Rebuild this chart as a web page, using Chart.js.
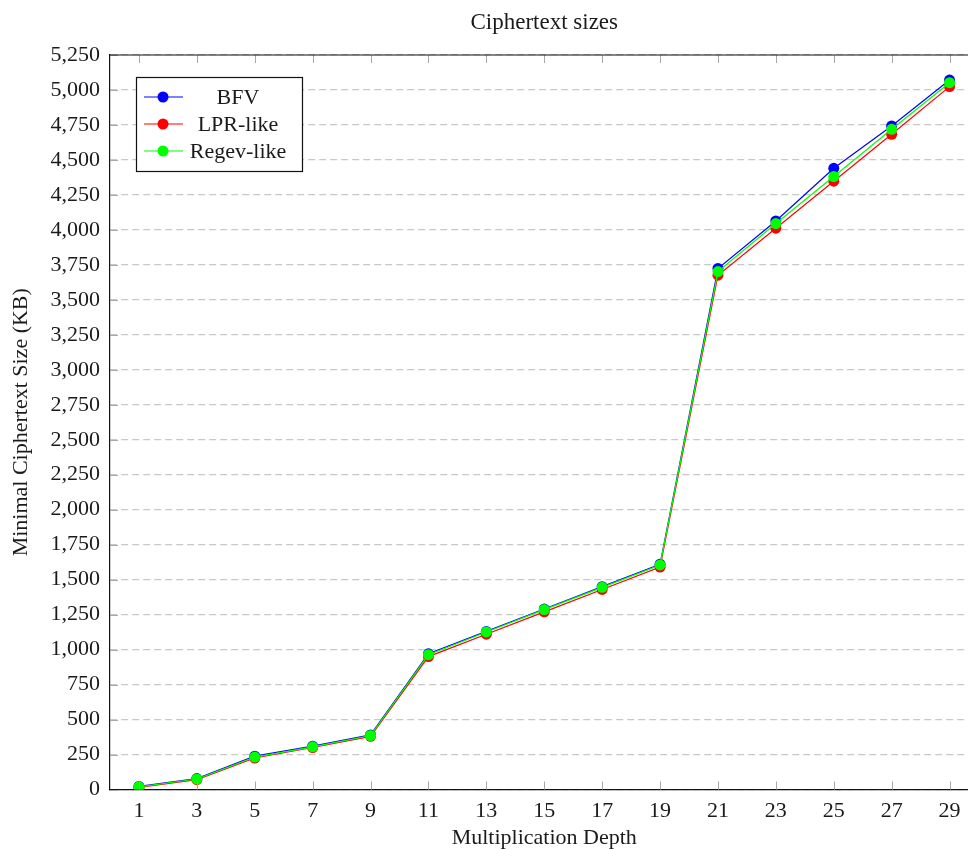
<!DOCTYPE html>
<html>
<head>
<meta charset="utf-8">
<script src="https://cdn.jsdelivr.net/npm/chart.js@4.4.1/dist/chart.umd.min.js"></script>
<style>
  html, body { margin: 0; padding: 0; background: #fff; overflow: hidden; }
  canvas { display: block; }
</style>
</head>
<body>
<canvas id="sizesChart" width="1000" height="849"></canvas>
<script>
// multiplication depth on x, ciphertext size (KB) on y
const depths = [1, 3, 5, 7, 9, 11, 13, 15, 17, 19, 21, 23, 25, 27, 29];
const bfvSizes = [22, 78, 238, 310, 390, 970, 1130, 1290, 1450, 1610, 3724, 4064, 4440, 4743, 5071];
const lprSizes = [15, 70, 225, 300, 380, 950, 1110, 1270, 1430, 1590, 3676, 4012, 4348, 4683, 5024];
const regevSizes = [19, 75, 232, 305, 386, 964, 1126, 1286, 1445, 1605, 3702, 4045, 4381, 4719, 5052];
const seriesNames = ['BFV', 'LPR-like', 'Regev-like'];
const seriesColors = ['#0000ff', '#ff0000', '#00ff00'];

const FONT = '"Liberation Serif", "Times New Roman", serif';
const TEXT = '#1a1a1a';

function toPoints(ys) {
  return depths.map((d, i) => ({ x: d, y: ys[i] }));
}

// title, top border, inward tick marks and the boxed legend
const pgfLook = {
  id: 'pgfLook',
  afterDatasetsDraw(chart) {
    const ctx = chart.ctx;
    const a = chart.chartArea;
    const xs = chart.scales.x, ys = chart.scales.y;
    ctx.save();

    // tick marks
    ctx.strokeStyle = '#a8a8a8';
    ctx.lineWidth = 1;
    ctx.beginPath();
    depths.forEach(d => {
      const px = Math.round(xs.getPixelForValue(d)) + 0.5;
      ctx.moveTo(px, a.top); ctx.lineTo(px, a.top + 8);
      ctx.moveTo(px, a.bottom); ctx.lineTo(px, a.bottom - 8);
    });
    ys.ticks.forEach(t => {
      const py = Math.round(ys.getPixelForValue(t.value)) + 0.5;
      ctx.moveTo(a.left, py); ctx.lineTo(a.left + 8, py);
    });
    ctx.stroke();

    // top border
    ctx.strokeStyle = '#111';
    ctx.lineWidth = 1.2;
    ctx.beginPath();
    ctx.moveTo(a.left, a.top);
    ctx.lineTo(a.right, a.top);
    ctx.stroke();

    // title
    ctx.fillStyle = TEXT;
    ctx.font = '23px ' + FONT;
    ctx.textAlign = 'center';
    ctx.textBaseline = 'middle';
    ctx.fillText('Ciphertext sizes', (a.left + a.right) / 2, 23);

    // legend
    const lx = 136, ly = 77, lw = 166, lh = 94;
    ctx.fillStyle = '#fff';
    ctx.fillRect(lx, ly, lw, lh);
    ctx.strokeStyle = '#111';
    ctx.lineWidth = 1.2;
    ctx.strokeRect(lx + 0.5, ly + 0.5, lw, lh);
    const rows = [97, 124, 151];
    ctx.font = '22px ' + FONT;
    seriesNames.forEach((name, i) => {
      const cy = rows[i];
      ctx.strokeStyle = seriesColors[i];
      ctx.lineWidth = 1.2;
      ctx.beginPath();
      ctx.moveTo(144, cy); ctx.lineTo(183, cy);
      ctx.stroke();
      ctx.fillStyle = seriesColors[i];
      ctx.beginPath();
      ctx.arc(163, cy, 5.5, 0, Math.PI * 2);
      ctx.fill();
      ctx.fillStyle = TEXT;
      ctx.fillText(name, 238, cy + 1);
    });
    ctx.restore();
  }
};

const cctx = document.getElementById('sizesChart').getContext('2d');
const sizesChart = new Chart(cctx, {
  type: 'line',
  data: {
    datasets: [
      { label: seriesNames[0], data: toPoints(bfvSizes), order: 2 },
      { label: seriesNames[1], data: toPoints(lprSizes), order: 1 },
      { label: seriesNames[2], data: toPoints(regevSizes), order: 0 }
    ].map((ds, i) => Object.assign(ds, {
      borderColor: seriesColors[i],
      backgroundColor: seriesColors[i],
      pointBackgroundColor: seriesColors[i],
      borderWidth: 1.2,
      pointRadius: 5.5,
      pointBorderWidth: 0,
      tension: 0,
      fill: false
    }))
  },
  options: {
    responsive: false,
    animation: false,
    layout: { padding: { top: 55, right: 21.5, bottom: 0, left: 0 } },
    plugins: {
      legend: { display: false },
      title: { display: false },
      tooltip: { enabled: false }
    },
    scales: {
      x: {
        type: 'linear',
        min: 0,
        max: 30,
        afterBuildTicks: s => { s.ticks = depths.map(v => ({ value: v })); },
        afterFit: s => { s.height = 849 - 789.5; },
        grid: { display: false },
        border: { display: true, color: '#111', width: 1.2 },
        ticks: {
          color: TEXT,
          font: { family: FONT, size: 22 },
          padding: 1,
          maxRotation: 0,
          autoSkip: false,
          callback: v => String(v)
        },
        title: {
          display: true,
          text: 'Multiplication Depth',
          color: TEXT,
          font: { family: FONT, size: 22, lineHeight: 1.0 },
          padding: { top: 0, bottom: 0 }
        }
      },
      y: {
        min: 0,
        max: 5250,
        afterFit: s => { s.width = 110; },
        grid: {
          color: '#c8c8c8',
          lineWidth: 1.2,
          drawTicks: false
        },
        border: { display: true, color: '#111', width: 1.2, dash: [7, 4] },
        ticks: {
          stepSize: 250,
          color: TEXT,
          font: { family: FONT, size: 22 },
          padding: 10,
          callback: v => v.toLocaleString('en-US')
        },
        title: {
          display: true,
          text: 'Minimal Ciphertext Size (KB)',
          color: TEXT,
          font: { family: FONT, size: 22 },
          padding: { top: 8, bottom: 0 }
        }
      }
    }
  },
  plugins: [pgfLook]
});
</script>
</body>
</html>
